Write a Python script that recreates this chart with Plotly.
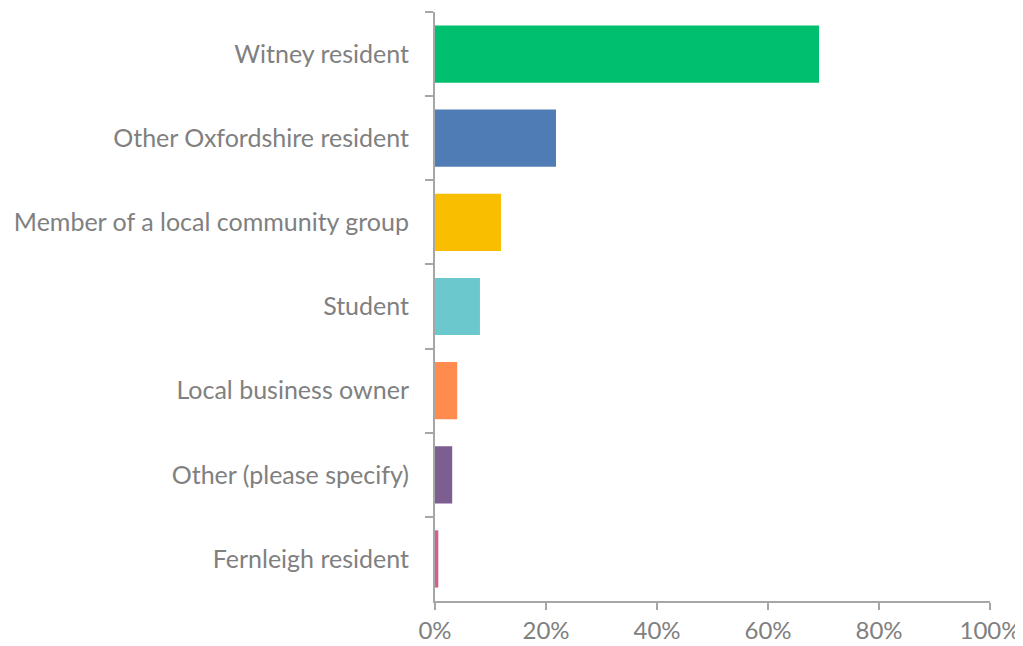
import plotly.graph_objects as go

categories = [
    "Witney resident",
    "Other Oxfordshire resident",
    "Member of a local community group",
    "Student",
    "Local business owner",
    "Other (please specify)",
    "Fernleigh resident",
]
values = [0.692, 0.218, 0.119, 0.081, 0.040, 0.031, 0.006]
colors = ["#00BF6F", "#507CB6", "#F9BE00", "#6BC8CD", "#FF8B4F", "#7D5E90", "#D25F90"]

x_ticks = [0, 0.2, 0.4, 0.6, 0.8, 1.0]
x_labels = ["0%", "20%", "40%", "60%", "80%", "100%"]

text_color = "#808080"
axis_color = "#A6A6A6"
font_family = "Lato, 'Open Sans', sans-serif"

fig = go.Figure(
    go.Bar(
        x=values,
        y=categories,
        orientation="h",
        marker=dict(color=colors, line=dict(width=0)),
        width=0.68,
    )
)

# page body has an 8px default margin, so the figure is sized to fit inside
fig.update_layout(
    width=1015,
    height=638,
    margin=dict(l=427, r=33, t=4, b=45, autoexpand=False),
    plot_bgcolor="white",
    paper_bgcolor="white",
    showlegend=False,
    font=dict(family=font_family, color=text_color, size=25),
)

fig.update_xaxes(
    range=[0, 1],
    tickvals=x_ticks,
    ticktext=x_labels,
    showgrid=False,
    zeroline=False,
    showline=True,
    linecolor=axis_color,
    linewidth=2,
    ticks="outside",
    ticklen=7,
    tickwidth=1.5,
    tickcolor=axis_color,
    ticklabelstandoff=0,
    tickfont=dict(size=24, color=text_color, family=font_family),
    automargin=False,
    fixedrange=True,
)

fig.update_yaxes(
    type="category",
    categoryorder="array",
    categoryarray=categories,
    autorange="reversed",
    showgrid=False,
    showline=True,
    linecolor=axis_color,
    linewidth=2,
    ticks="outside",
    tickson="boundaries",
    ticklen=8,
    tickwidth=2,
    tickcolor=axis_color,
    ticklabelstandoff=19,
    tickfont=dict(size=25, color=text_color, family=font_family),
    automargin=False,
    fixedrange=True,
)

fig.write_html("out.html")
